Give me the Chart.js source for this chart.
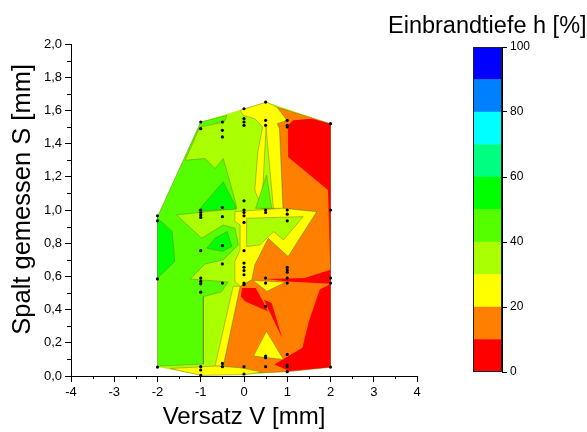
<!DOCTYPE html>
<html><head><meta charset="utf-8">
<script src="https://cdn.jsdelivr.net/npm/chart.js@4.4.0/dist/chart.umd.min.js"></script>
<style>
html,body{margin:0;padding:0;background:#fff;}
#wrap{position:relative;width:587px;height:432px;overflow:hidden;background:#fff;}
#main{position:absolute;left:0;top:0;}
#bar{position:absolute;left:383px;top:0;}
#cbTitle{position:absolute;left:388px;top:14px;font-family:'Liberation Sans',Arial,sans-serif;font-size:23.5px;line-height:1;color:#000;white-space:nowrap;}
</style></head><body>
<div id="wrap"><canvas id="main" width="587" height="432"></canvas><canvas id="bar" width="207" height="432"></canvas><div id="cbTitle">Einbrandtiefe h [%]</div></div>
<script>
// ---------- axis ticks ----------
const xTicks = [-4,-3,-2,-1,0,1,2,3,4];
const xTickLabels = ['-4','-3','-2','-1','0','1','2','3','4'];
const yTicks = [0,0.2,0.4,0.6,0.8,1.0,1.2,1.4,1.6,1.8,2.0];
const yTickLabels = ['0,0','0,2','0,4','0,6','0,8','1,0','1,2','1,4','1,6','1,8','2,0'];
const cbTicks = [0,20,40,60,80,100];
const cbTickLabels = ['0','20','40','60','80','100'];

// ---------- colour levels (Einbrandtiefe h [%]) ----------
const levelEdges = [0,10,20,30,40,50,60,70,80,90,100];
const levelColors = ['#ff0000','#ff8000','#ffff00','#aaff00','#55ff00','#00ff00','#00ff80','#00ffff','#0080ff','#0000ff'];

// ---------- measurement points (Versatz V, Spalt S) ----------
const measV = [-2,-2,-2,-2,
  -1,-1,-1,-1,-1,-1,-1,-1,-1,-1,-1,-1,-1,-1,
  -0.5,-0.5,-0.5,-0.5,-0.5,-0.5,-0.5,-0.5,-0.5,-0.5,
  0,0,0,0,0,0,0,0,0,0,0,0,0,0,0,0,0,0,
  0.5,0.5,0.5,0.5,0.5,0.5,0.5,0.5,0.5,0.5,0.5,
  1,1,1,1,1,1,1,1,1,1,1,1,1,1,1,
  2,2,2,2,2];
const measS = [0.965,0.935,0.585,0.054,
  1.53,1.49,1.0,0.985,0.97,0.955,0.755,0.59,0.57,0.555,0.505,0.056,0.036,0.004,
  1.53,1.48,1.44,1.015,0.96,0.785,0.675,0.56,0.076,0.056,
  1.61,1.55,1.53,1.51,1.055,1.0,0.985,0.965,0.925,0.755,0.68,0.655,0.635,0.61,0.56,0.55,0.056,0.012,
  1.65,1.54,1.51,1.0,0.985,0.59,0.56,0.42,0.12,0.11,0.056,
  1.54,1.51,1.5,1.0,0.975,0.935,0.655,0.64,0.625,0.59,0.56,0.13,0.066,0.056,0.026,
  1.52,1.0,0.59,0.56,0.054];

// ---------- contour regions [V,S] with their level index ----------
const hull = [[-2,0.054],[-2,0.96],[-1,1.53],[0,1.61],[0.52,1.65],[2,1.52],[2,0.052],[1,0.026],[0,0.008],[-1,0.004]];
const g1 = [[-1,1.53],[-0.39,1.57],[-0.46,1.53],[-1.02,1.50],[-1.36,1.30],[-0.90,1.31],[-0.67,1.25],[-0.48,1.31],[-0.21,1.06],[-0.17,1.01],[-1.56,0.97],[-0.98,0.83],[-0.48,0.91],[-0.21,0.89],[-0.13,0.79],[-0.48,0.70],[-0.90,0.675],[-1.25,0.584],[-0.37,0.566],[-0.52,0.508],[-0.94,0.478],[-0.94,0.072],[-1.94,0.06],[-2,0.054],[-2,0.96]];
const bg2 = [[-2,0.95],[-1.66,0.87],[-1.6,0.69],[-2,0.59]];
const bg1 = [[-1.06,0.995],[-0.48,1.17],[-0.21,1.03],[-0.18,1.005]];
const gb = [[-0.86,0.77],[-0.67,0.83],[-0.39,0.87],[-0.28,0.78],[-0.51,0.75]];
const o1 = [[0.76,1.62],[2,1.52],[2,0.052],[1,0.026],[0.37,0.02],[-0.48,0.06],[-0.09,0.54],[0.18,0.58],[0.25,0.67],[0.56,0.83],[1.02,0.72],[1.68,0.99],[0.9,1.01],[0.82,1.49],[0.77,1.52],[0.99,1.54]];
const r1 = [[1.02,1.51],[1.14,1.54],[1.57,1.55],[2,1.52],[2,0.6],[1.97,0.88],[1.94,1.12],[1.02,1.32]];
const y1 = [[-0.09,1.6],[0.02,1.61],[0.52,1.65],[0.76,1.62],[0.99,1.54],[0.77,1.52],[0.82,1.49],[0.9,1.01],[0.42,1.01],[0.25,1.12],[0.32,1.35],[0.43,1.5],[0.25,1.55],[-0.02,1.57]];
const ls = [[0.41,1.01],[0.51,1.5],[0.68,1.01]];
const gs = [[0.27,1.01],[0.52,1.21],[0.64,1.01]];
const y2 = [[-0.21,0.99],[0.9,1.01],[1.68,0.99],[1.02,0.72],[0.56,0.83],[0.25,0.67],[0.18,0.58],[-0.09,0.54],[-0.21,0.57],[-0.21,0.69],[-0.09,0.76],[-0.09,0.91],[-0.21,0.93]];
const la = [[0.06,0.95],[1.37,0.96],[0.91,0.82],[0.68,0.87],[0.37,0.79],[0.06,0.78]];
const rs = [[0.51,0.585],[1.4,0.59],[2,0.64],[2,0.555],[1.0,0.57]];
const ya = [[0.21,0.575],[0.95,0.565],[0.53,0.51]];
const r2 = [[-0.05,0.53],[0.27,0.53],[0.42,0.46],[0.55,0.39],[0.28,0.42],[0.02,0.45],[-0.07,0.48]];
const r3 = [[0.46,0.46],[0.64,0.44],[0.88,0.23]];
const r4 = [[2,0.555],[1.75,0.52],[1.5,0.33],[1.35,0.17],[0.7,0.07],[1.05,0.03],[2,0.052]];
const y3 = [[-0.25,0.54],[-0.09,0.54],[-0.48,0.06],[-0.67,0.06]];
const y4 = [[0.52,0.27],[0.22,0.12],[0.91,0.1]];
const yb = [[-1.7,0.045],[-0.67,0.06],[-0.1,0.05],[0.42,0.024],[0,0.008],[-1,0.004]];

// drawing order: bottom -> top  [polygon, level, contour line?]
const layers = [
  [hull,3,false],[g1,4,true],[bg2,5,true],[bg1,5,true],[gb,5,true],
  [o1,1,true],[r1,0,false],[y1,2,true],[ls,3,true],[gs,4,true],
  [y2,2,true],[la,3,true],[rs,0,false],[ya,2,true],[r2,0,false],[r3,0,false],[r4,0,false],
  [y3,2,true],[y4,2,true],[yb,2,true]
];

const FONT = "'Liberation Sans', Arial, sans-serif";
Chart.defaults.font.family = FONT;
Chart.defaults.color = '#000';

const datasets = [];
datasets.push({
  type:'scatter',
  data: measV.map((v,i)=>({x:v, y:measS[i]})),
  pointRadius:1.6, pointBackgroundColor:'#000', pointBorderWidth:0,
  showLine:false, order:0
});
layers.forEach((L,i)=>{
  const pts = L[0].concat([L[0][0]]).map(p=>({x:p[0], y:p[1]}));
  datasets.push({
    type:'line', data:pts, fill:'shape',
    backgroundColor: levelColors[L[1]],
    borderColor: L[2] ? 'rgba(110,110,40,0.55)' : 'rgba(0,0,0,0)',
    borderWidth: L[2] ? 0.8 : 1,
    pointRadius:0, tension:0, order: layers.length - i + 1
  });
});

const minorTicks = {
  id:'minorTicks',
  afterDraw(chart){
    const ctx = chart.ctx, xs = chart.scales.x, ys = chart.scales.y;
    ctx.save(); ctx.strokeStyle='#000'; ctx.lineWidth=1; ctx.beginPath();
    for (let i=0;i<xTicks.length-1;i++){
      const px = Math.round(xs.getPixelForValue((xTicks[i]+xTicks[i+1])/2))+0.5;
      ctx.moveTo(px, ys.bottom); ctx.lineTo(px, ys.bottom+3);
    }
    for (let i=0;i<yTicks.length-1;i++){
      const py = Math.round(ys.getPixelForValue((yTicks[i]+yTicks[i+1])/2))+0.5;
      ctx.moveTo(xs.left, py); ctx.lineTo(xs.left-4, py);
    }
    ctx.stroke(); ctx.restore();
  }
};

new Chart(document.getElementById('main'), {
  type:'scatter',
  data:{datasets},
  options:{
    responsive:false, animation:false, events:[],
    layout:{padding:{left:0, top:44, right:170, bottom:0}},
    plugins:{legend:{display:false}, tooltip:{enabled:false}},
    scales:{
      x:{type:'linear', min:-4, max:4,
        afterFit(s){ s.height = 56; },
        afterBuildTicks(s){ s.ticks = xTicks.map(v=>({value:v})); },
        ticks:{color:'#000', font:{size:13}, padding:3, maxRotation:0, callback:(v,i)=>xTickLabels[i]},
        grid:{drawOnChartArea:false, drawTicks:true, tickLength:6, color:'#000', tickColor:'#000'},
        border:{display:true, color:'#000', width:1},
        title:{display:true, text:'Versatz V [mm]', color:'#000', font:{size:24, weight:'normal'}, padding:{top:0,bottom:0}}
      },
      y:{type:'linear', min:0, max:2,
        afterFit(s){ s.width = 71; },
        afterBuildTicks(s){ s.ticks = yTicks.map(v=>({value:v})); },
        ticks:{color:'#000', font:{size:13}, padding:3, callback:(v,i)=>yTickLabels[i]},
        grid:{drawOnChartArea:false, drawTicks:true, tickLength:6, color:'#000', tickColor:'#000'},
        border:{display:true, color:'#000', width:1},
        title:{display:true, text:'   Spalt gemessen S [mm]', color:'#000', font:{size:25.5, weight:'normal'}, padding:{top:8,bottom:0}}
      }
    }
  },
  plugins:[minorTicks]
});

const cbFrame = {
  id:'cbFrame',
  afterDatasetsDraw(chart){
    const a = chart.chartArea, ctx = chart.ctx;
    ctx.save(); ctx.strokeStyle='#222'; ctx.lineWidth=1;
    ctx.strokeRect(Math.round(a.left)+0.5, Math.round(a.top)+0.5, Math.round(a.right-a.left)-1, Math.round(a.bottom-a.top)-1);
    ctx.restore();
  }
};

new Chart(document.getElementById('bar'), {
  type:'bar',
  data:{
    labels:[''],
    datasets: levelColors.map((c,i)=>({
      data:[levelEdges[i+1]-levelEdges[i]], backgroundColor:c, borderWidth:0,
      barPercentage:1, categoryPercentage:1
    }))
  },
  options:{
    responsive:false, animation:false, events:[],
    layout:{padding:{left:90, right:0, top:47, bottom:60}},
    plugins:{legend:{display:false}, tooltip:{enabled:false}},
    scales:{
      x:{display:false, stacked:true},
      y:{stacked:true, position:'right', min:0, max:100,
        afterFit(s){ s.width = 88; },
        afterBuildTicks(s){ s.ticks = cbTicks.map(v=>({value:v})); },
        ticks:{color:'#000', font:{size:12}, padding:3, callback:(v,i)=>cbTickLabels[i]},
        grid:{drawOnChartArea:false, drawTicks:true, tickLength:5, color:'#000', tickColor:'#000'},
        border:{display:true, color:'#000', width:1}
      }
    }
  },
  plugins:[cbFrame]
});
</script>
</body></html>
